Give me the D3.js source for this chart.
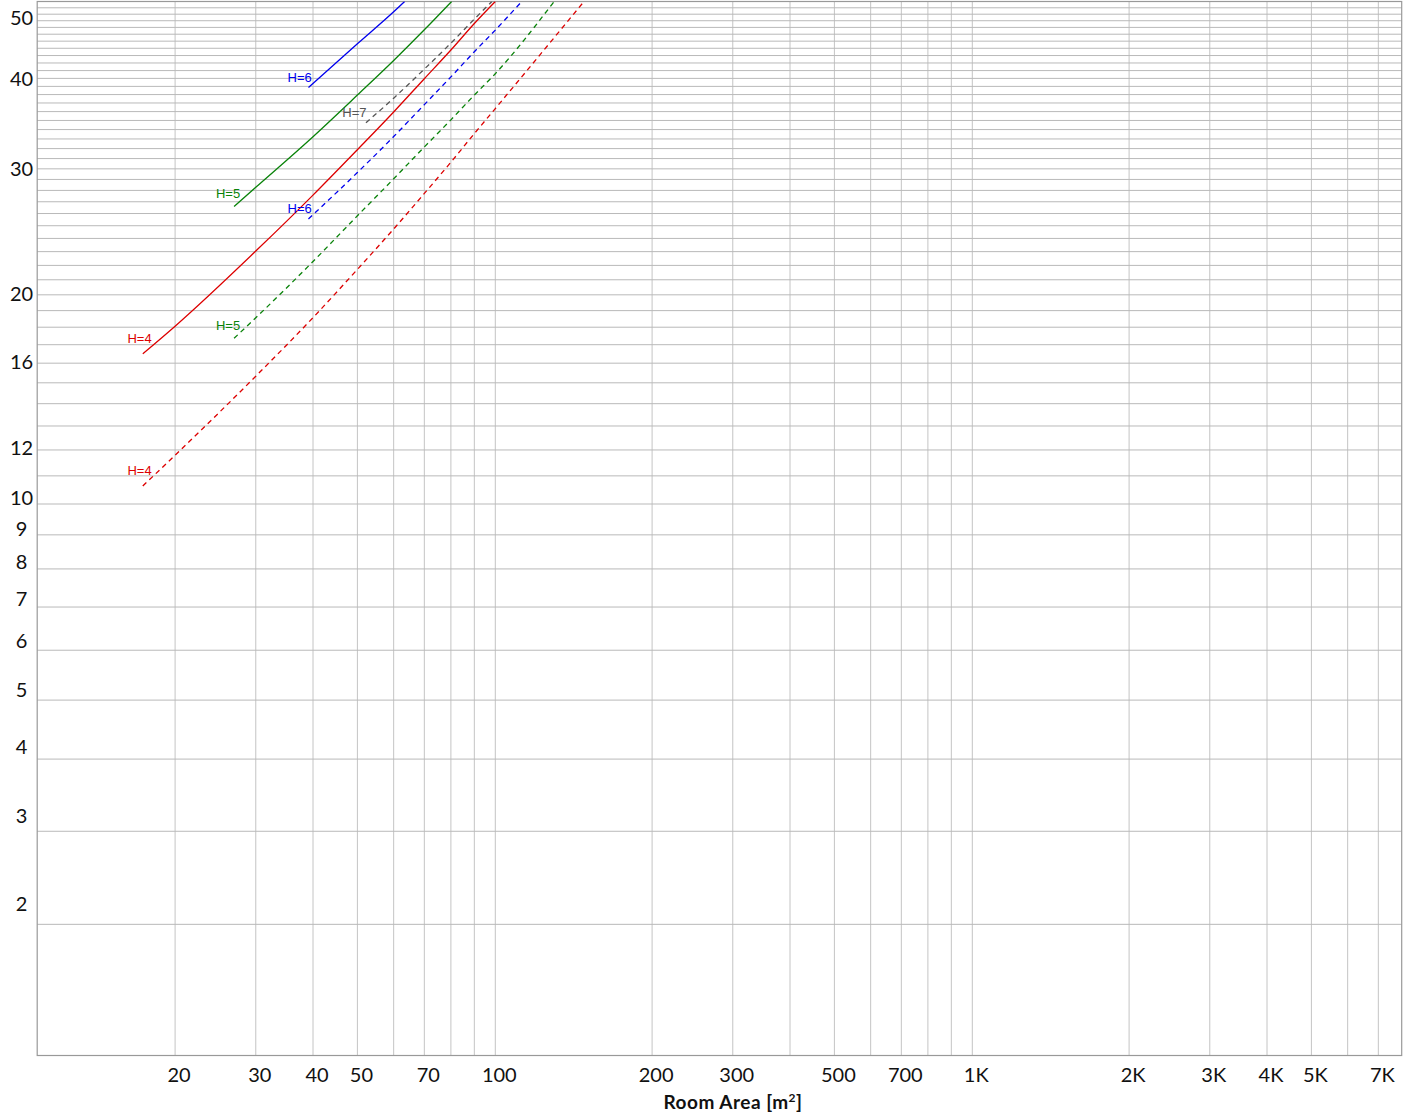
<!DOCTYPE html>
<html>
<head>
<meta charset="utf-8">
<script src="https://cdn.jsdelivr.net/npm/d3@7"></script>
<style>
  body { margin: 0; background: #fff; }
  svg { display: block; }
</style>
</head>
<body>
<svg id="chart" width="1408" height="1118"></svg>
<script>
'use strict'

// x ticks (room area, m2) and their labels
const areaTicks = [20, 30, 40, 50, 70, 100, 200, 300, 500, 700, 1000, 2000, 3000, 4000, 5000, 7000]
const areaTickLabels = ['20', '30', '40', '50', '70', '100', '200', '300', '500', '700', '1K', '2K', '3K', '4K', '5K', '7K']
// y ticks
const valueTicks = [2, 3, 4, 5, 6, 7, 8, 9, 10, 12, 16, 20, 30, 40, 50]

// curves: [area, value]
const h4Solid = [[17.0, 16.5], [20, 18.06], [30, 23.04], [40, 27.58], [50, 31.89], [60, 35.96], [70, 39.96], [80, 43.76], [90, 47.58], [100, 51]]
const h4Dashed = [[17.0, 10.63], [20, 11.79], [30, 15.33], [40, 18.57], [50, 21.72], [60, 24.74], [70, 27.73], [80, 30.64], [90, 33.57], [100, 36.35], [148, 51]]
const h5Solid = [[26.9, 26.6], [30, 28.28], [40, 33.24], [50, 37.94], [60, 42.33], [70, 46.64], [80.3, 51]]
const h5Dashed = [[26.9, 17.36], [30, 18.56], [40, 22.28], [50, 25.81], [60, 29.06], [70, 32.17], [80, 35.07], [90, 37.94], [100, 40.6], [129.7, 51]]
const h6Solid = [[39.1, 38.87], [50, 44.63], [60, 49.37], [63.4, 51]]
const h6Dashed = [[39.1, 25.55], [50, 29.65], [60, 33.25], [70, 36.81], [80, 40.19], [90, 43.52], [100, 46.6], [112.4, 51]]
const h7Dashed = [[52.2, 34.75], [60, 37.57], [70, 41.2], [80, 44.72], [90, 48.24], [98.3, 51]]

const seriesHeights = [4, 4, 5, 5, 6, 6, 7]
const seriesData = [h4Solid, h4Dashed, h5Solid, h5Dashed, h6Solid, h6Dashed, h7Dashed]
const seriesDashed = [false, true, false, true, false, true, true]
const seriesColors = ['#dd0000', '#dd0000', '#0a830a', '#0a830a', '#0000ee', '#0000ee', '#555555']

function draw(){
	let svg = d3.select('#chart')

	let left = 37.2, right = 1401.7, top = 1.5, bottom = 1055.5

	// log axis, but the 1->2 step of the upper decades is drawn a little wider
	let decade = 458.1, stretch = 18.9
	let x100 = left + decade
	let x200 = x100 + decade * Math.log10(2) + stretch
	let x1000 = x200 + decade * Math.log10(5)
	let x2000 = x1000 + decade * Math.log10(2) + stretch
	let areaMax = 2000 * Math.pow(10, (right - x2000) / decade)

	let x = d3.scaleLog()
		.domain([10, 100, 200, 1000, 2000, areaMax])
		.range([left, x100, x200, x1000, x2000, right])

	// vertical axis is log of (value + 1)
	let yLog = d3.scaleLog().domain([2, 52]).range([bottom, top])
	let y = v => yLog(v + 1)

	// grid
	let vGrid = []
	;[10, 100, 1000].forEach(d => d3.range(1, 10).forEach(k => {
		let v = d * k
		if (v > 10 && v < areaMax) vGrid.push(v)
	}))
	let hGrid = d3.range(2, 51)

	let grid = svg.append('g').attr('class', 'grid')
	grid.selectAll('line.v')
		.data(vGrid)
		.join('line')
		.attr('class', 'v')
		.attr('x1', d => x(d)).attr('x2', d => x(d))
		.attr('y1', top).attr('y2', bottom)
		.style('stroke', '#c4c4c4')
		.style('stroke-width', 1)

	grid.selectAll('line.h')
		.data(hGrid)
		.join('line')
		.attr('class', 'h')
		.attr('x1', left).attr('x2', right)
		.attr('y1', d => y(d)).attr('y2', d => y(d))
		.style('stroke', '#b9b9b9')
		.style('stroke-width', 1)

	// frame
	svg.append('rect')
		.attr('x', left).attr('y', top)
		.attr('width', right - left).attr('height', bottom - top)
		.style('fill', 'none')
		.style('stroke', '#999')
		.style('stroke-width', 1.2)

	// x labels
	svg.append('g').selectAll('text')
		.data(areaTicks)
		.join('text')
		.attr('x', d => x(d) + 4)
		.attr('y', 1081.5)
		.attr('text-anchor', 'middle')
		.style('font-family', 'Lato, sans-serif')
		.style('font-size', '20px')
		.style('fill', '#111')
		.text((d, i) => areaTickLabels[i])

	// y labels
	svg.append('g').selectAll('text')
		.data(valueTicks)
		.join('text')
		.attr('x', 21.5)
		.attr('y', d => {
			let shift = d <= 10 ? 0.2 : (d <= 20 ? 0.08 : 0)
			return Math.max(y(d + shift), top + 16.5)
		})
		.attr('dy', '0.36em')
		.attr('text-anchor', 'middle')
		.style('font-family', 'Lato, sans-serif')
		.style('font-size', '20px')
		.style('fill', '#111')
		.text(d => d)

	// axis title
	let title = svg.append('text')
		.attr('x', 733)
		.attr('y', 1109)
		.attr('text-anchor', 'middle')
		.style('font-family', 'Lato, sans-serif')
		.style('font-size', '19px')
		.style('letter-spacing', '0.5px')
		.style('font-weight', 'bold')
		.style('fill', '#111')
	title.append('tspan').text('Room Area [m')
	title.append('tspan').attr('dy', -7).style('font-size', '12px').text('2')
	title.append('tspan').attr('dy', 7).text(']')

	// curves
	svg.append('clipPath').attr('id', 'plotclip')
		.append('rect')
		.attr('x', left).attr('y', top)
		.attr('width', right - left).attr('height', bottom - top)

	let line = d3.line()
		.x(d => x(d[0]))
		.y(d => y(d[1]))
		.curve(d3.curveMonotoneX)

	let series = seriesData.map((data, i) => ({
		h: seriesHeights[i], data: data, dashed: seriesDashed[i], color: seriesColors[i]
	}))

	let curves = svg.append('g').attr('clip-path', 'url(#plotclip)')
	curves.selectAll('path')
		.data(series)
		.join('path')
		.attr('d', d => line(d.data))
		.style('fill', 'none')
		.style('stroke', d => d.color)
		.style('stroke-width', 1.3)
		.style('stroke-dasharray', d => d.dashed ? '5,4' : null)

	// "H=.." labels sit up and left of where each curve starts
	svg.append('g').selectAll('text')
		.data(series)
		.join('text')
		.attr('x', d => x(d.data[0][0]) - 3.2 - 2.8 * (d.h - 4))
		.attr('y', d => y(d.data[0][1]) - Math.max(5.5, 11 - 2.8 * (d.h - 4)))
		.attr('text-anchor', 'middle')
		.style('font-family', '"Liberation Sans", Arial, sans-serif')
		.style('font-size', '13px')
		.style('fill', d => d.color)
		.text(d => 'H=' + d.h)
}

draw()
</script>
</body>
</html>
